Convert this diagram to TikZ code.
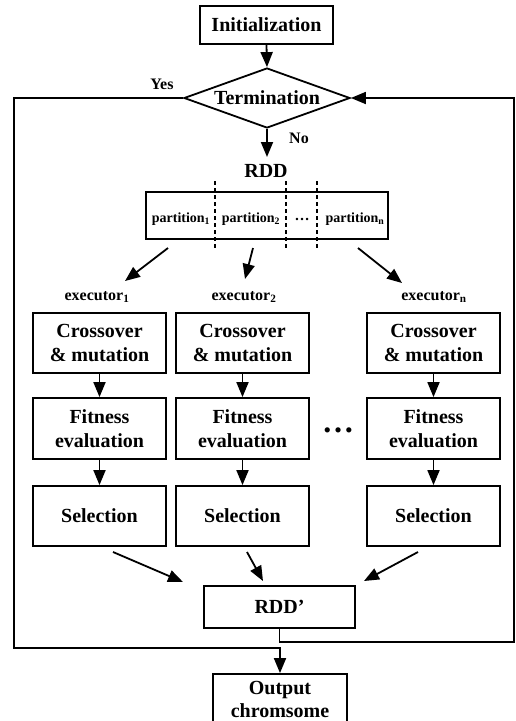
\documentclass[tikz,border=0pt]{standalone}
\usepackage{fontspec}
\setmainfont{Liberation Serif}
\usetikzlibrary{shapes.geometric,arrows.meta}
\begin{document}
\begin{tikzpicture}[x=1pt,y=-1pt,
  every node/.style={font=\bfseries\fontsize{20}{24}\selectfont},
  box/.style={draw,line width=1.8pt,inner sep=0pt,align=center,minimum width=133pt,minimum height=60pt},
  arr/.style={line width=1.8pt,-{Triangle[length=15pt,width=12pt]}},
  ln/.style={line width=1.8pt},
  dsh/.style={line width=1.6pt,dash pattern=on 4pt off 3pt},
  lbl/.style={font=\bfseries\fontsize{16}{18}\selectfont},
  part/.style={font=\bfseries\fontsize{14}{16}\selectfont},
]
\path[fill=white,use as bounding box] (0,0) rectangle (516,721);

% top part
\node[box,minimum height=38pt] (init) at (266.5,25) {Initialization};
\node[draw,diamond,line width=1.8pt,inner sep=0pt,minimum width=166pt,minimum height=60pt,aspect=2.77] (term) at (267,98) {Termination};
\node[lbl] (yes) at (162,84) {Yes};
\node[lbl] (no) at (299,138) {No};
\node (rddlbl) at (266,171) {RDD};
\coordinate (noend) at (267,157);

% RDD partition box
\node[draw,line width=1.8pt,minimum width=242pt,minimum height=47pt,inner sep=0pt] (rdd) at (267,215.5) {};
\coordinate (d1a) at (215,181); \coordinate (d1b) at (215,250);
\coordinate (d2a) at (286,181); \coordinate (d2b) at (286,250);
\coordinate (d3a) at (317,181); \coordinate (d3b) at (317,250);
\node[part,anchor=base] (p1) at (181,222) {partition\textsubscript{1}};
\node[part,anchor=base] (p2) at (251,222) {partition\textsubscript{2}};
\node[font=\bfseries\fontsize{15}{16}\selectfont] (pd) at (302,219) {…};
\node[part,anchor=base] (pn) at (355,222) {partition\textsubscript{n}};

% executors
\node[lbl,anchor=base] (e1) at (97,300) {executor\textsubscript{1}};
\node[lbl,anchor=base] (e2) at (244,300) {executor\textsubscript{2}};
\node[lbl,anchor=base] (en) at (434,300) {executor\textsubscript{n}};

\coordinate (a1s) at (168,248); \coordinate (a1e) at (125,281);
\coordinate (a2s) at (253,248); \coordinate (a2e) at (245,279);
\coordinate (a3s) at (358,248); \coordinate (a3e) at (402,283);

% columns
\node[box] (c1) at (99.5,343) {Crossover\\\& mutation};
\node[box,minimum height=61pt] (f1) at (99.5,428.5) {Fitness\\evaluation};
\node[box] (s1) at (99.5,516) {Selection};
\node[box] (c2) at (242.5,343) {Crossover\\\& mutation};
\node[box,minimum height=61pt] (f2) at (242.5,428.5) {Fitness\\evaluation};
\node[box] (s2) at (242.5,516) {Selection};
\node[box] (cn) at (433.5,343) {Crossover\\\& mutation};
\node[box,minimum height=61pt] (fn) at (433.5,428.5) {Fitness\\evaluation};
\node[box] (sn) at (433.5,516) {Selection};
\node[font=\bfseries\fontsize{32}{32}\selectfont] (bigdots) at (338,430) {…};

% RDD'
\node[box,minimum width=151pt,minimum height=42pt] (rdd2) at (279.5,607) {RDD’};
\coordinate (b1s) at (113,552); \coordinate (b1e) at (183,582);
\coordinate (b2s) at (247,552); \coordinate (b2e) at (263,581);
\coordinate (b3s) at (418,552); \coordinate (b3e) at (364,581);

% output
\node[box,minimum width=134pt,minimum height=50pt,font=\bfseries\fontsize{20}{23}\selectfont] (out) at (280,699) {Output\\chromsome};

\coordinate (rl) at (514,642);
\coordinate (ll) at (14,648);

% connectors
\draw[arr] (init.south) -- (term.north);
\draw[arr] (term.south) -- (noend);
\draw[dsh] (d1a) -- (d1b);
\draw[dsh] (d2a) -- (d2b);
\draw[dsh] (d3a) -- (d3b);
\draw[arr] (a1s) -- (a1e);
\draw[arr] (a2s) -- (a2e);
\draw[arr] (a3s) -- (a3e);
\draw[arr] (c1) -- (f1);
\draw[arr] (f1) -- (s1);
\draw[arr] (c2) -- (f2);
\draw[arr] (f2) -- (s2);
\draw[arr] (cn) -- (fn);
\draw[arr] (fn) -- (sn);
\draw[arr] (b1s) -- (b1e);
\draw[arr] (b2s) -- (b2e);
\draw[arr] (b3s) -- (b3e);
\draw[arr] (rdd2.south) |- (rl) |- (term.east);
\draw[arr] (term.west) -| (ll) -| (out.north);
\end{tikzpicture}
\end{document}
